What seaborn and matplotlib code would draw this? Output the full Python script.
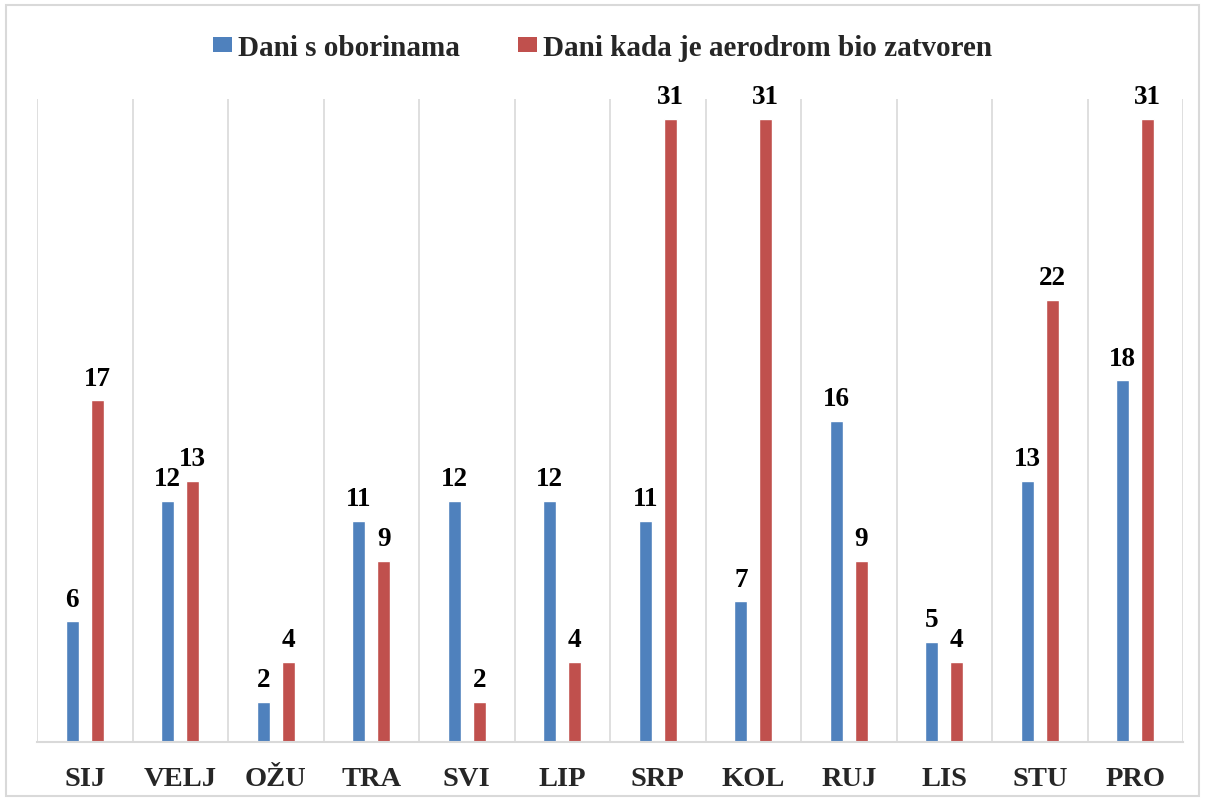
import matplotlib
matplotlib.use("Agg")
import matplotlib.pyplot as plt
import matplotlib.patches as mpatches
import numpy as np
import pandas as pd
import seaborn as sns

months = ["SIJ", "VELJ", "OŽU", "TRA", "SVI", "LIP", "SRP", "KOL", "RUJ", "LIS", "STU", "PRO"]
rain_days = [6, 12, 2, 11, 12, 12, 11, 7, 16, 5, 13, 18]
closed_days = [17, 13, 4, 9, 2, 4, 31, 31, 9, 4, 22, 31]
series_names = ["Dani s oborinama", "Dani kada je aerodrom bio zatvoren"]
colors = ["#4F81BD", "#C0504D"]

df = pd.DataFrame({
    "month": months * 2,
    "value": rain_days + closed_days,
    "series": [series_names[0]] * len(months) + [series_names[1]] * len(months),
})

sns.set_theme(style="white")
plt.rcParams["font.family"] = ["Liberation Serif", "DejaVu Serif"]
plt.rcParams["font.weight"] = "bold"

fig = plt.figure(figsize=(12.05, 8.03), dpi=100)
ax = fig.add_axes([37 / 1205, 1 - 743 / 803, (1183 - 37) / 1205, (743 - 100) / 803])

sns.barplot(data=df, x="month", y="value", hue="series", hue_order=series_names,
            order=months, palette=colors, width=0.52, gap=0.48, ax=ax,
            saturation=1, legend=False, errorbar=None)

for c in ax.containers:
    ax.bar_label(c, padding=7, fontsize=19.5, fontweight="bold", color="black")

ax.set_ylim(0, 32)
ax.set_xlim(-0.5, len(months) - 0.5)
ax.set_yticks([])
ax.set_xlabel("")
ax.set_ylabel("")
ax.set_xticks(np.arange(-0.5, len(months)), minor=True)
ax.grid(which="minor", axis="x", color="#D9D9D9", linewidth=1.2)
ax.grid(which="major", axis="both", visible=False)
ax.tick_params(axis="x", which="both", length=0, pad=17)
for lbl in ax.get_xticklabels():
    lbl.set_fontsize(20.5)
    lbl.set_fontweight("bold")
for s in ["top", "left", "right"]:
    ax.spines[s].set_visible(False)
ax.spines["bottom"].set_color("#D9D9D9")
ax.spines["bottom"].set_linewidth(1.5)

handles = [mpatches.Patch(facecolor=col, edgecolor="none", linewidth=0, label=name)
           for col, name in zip(colors, series_names)]
ax.legend(handles=handles, loc="center", bbox_to_anchor=(0.5, 1 - 48 / 803),
          bbox_transform=fig.transFigure, ncol=2, frameon=False,
          handlelength=0.65, handleheight=0.42, handletextpad=0.2,
          columnspacing=2.0, prop={"family": "Liberation Serif", "weight": "bold", "size": 21})

fig.patches.append(mpatches.Rectangle((6 / 1205, 6 / 803), 1193 / 1205, 791 / 803,
                                      transform=fig.transFigure, fill=False,
                                      edgecolor="#D9D9D9", linewidth=1.5))

fig.savefig("out.png", dpi=100)
